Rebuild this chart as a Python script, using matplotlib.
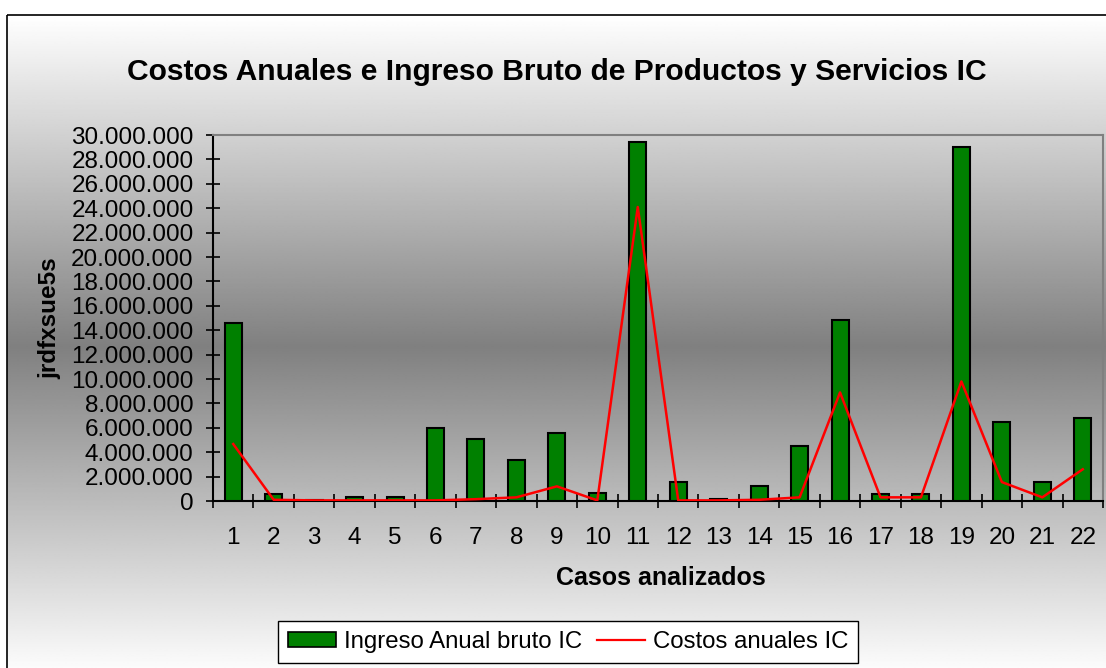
import numpy as np
import matplotlib
matplotlib.use("Agg")
import matplotlib.pyplot as plt
from matplotlib.patches import Rectangle, Patch
from matplotlib.lines import Line2D
from matplotlib.ticker import FuncFormatter

plt.rcParams['font.family'] = ['Liberation Sans', 'DejaVu Sans']

casos = [str(i) for i in range(1, 23)]
ingreso = [14.6, 0.6, 0.1, 0.3, 0.3, 6.0, 5.1, 3.4, 5.6, 0.65, 29.4, 1.55,
           0.15, 1.25, 4.5, 14.8, 0.6, 0.6, 29.0, 6.5, 1.55, 6.8]
costos = [4.67, 0.1, 0.05, 0.05, 0.05, 0.05, 0.15, 0.3, 1.2, 0.05, 24.1, 0.05,
          0.05, 0.1, 0.3, 8.9, 0.3, 0.3, 9.8, 1.55, 0.3, 2.6]
ingreso = [v * 1e6 for v in ingreso]
costos = [v * 1e6 for v in costos]

title = "Costos Anuales e Ingreso Bruto de Productos y Servicios IC"
ylabel = "jrdfxsue5s"
xlabel = "Casos analizados"
leg_bar = "Ingreso Anual bruto IC"
leg_line = "Costos anuales IC"

W, H = 1106, 668
fig = plt.figure(figsize=(W / 100, H / 100), dpi=100)
fig.patch.set_facecolor('white')

# background gradient inside the chart border
bg = fig.add_axes([0, 0, 1, 1], zorder=0)
bg.set_xlim(0, W)
bg.set_ylim(H, 0)
bg.axis('off')
y0, y1 = 15, 668
ys = np.linspace(0, 1, 400)
mid = 0.5
vals = np.where(ys < mid, 255 - (255 - 128) * ys / mid, 128 + (255 - 128) * (ys - mid) / (1 - mid))
img = np.repeat(vals[:, None], 2, axis=1) / 255.0
bg.imshow(img, cmap='gray', vmin=0, vmax=1, aspect='auto',
          extent=[7, W + 5, y1 + 10, y0], interpolation='bilinear')
bg.add_patch(Rectangle((7, 15), W, H, fill=False, edgecolor='black', lw=1.2))

ax = fig.add_axes([213 / W, 1 - 501 / H, (1103 - 213) / W, (501 - 135) / H], zorder=2)
ax.set_facecolor('none')

x = np.arange(1, len(casos) + 1)
ax.bar(x, ingreso, width=0.42, color='#008000', edgecolor='black', linewidth=1.5, zorder=3)
ax.plot(x, costos, color='#ff0000', lw=1.8, zorder=4)

ax.set_xlim(0.5, len(casos) + 0.5)
ax.set_ylim(0, 30e6)
ax.set_yticks(np.arange(0, 30e6 + 1, 2e6))
ax.yaxis.set_major_formatter(FuncFormatter(lambda v, p: f"{int(round(v)):,}".replace(',', '.')))
ax.set_xticks(x)
ax.set_xticklabels(casos)
ax.set_xticks(np.arange(0.5, len(casos) + 1, 1), minor=True)
ax.tick_params(axis='x', which='major', length=0, pad=19, labelsize=17.5)
ax.tick_params(axis='x', which='minor', direction='inout', length=10, width=1.2)
ax.tick_params(axis='y', direction='inout', length=10, width=1.2, pad=9, labelsize=17.5)

for s in ['top', 'right']:
    ax.spines[s].set_color('#808080')
    ax.spines[s].set_linewidth(1.5)
for s in ['left', 'bottom']:
    ax.spines[s].set_color('black')
    ax.spines[s].set_linewidth(1.5)

fig.text(557 / W, 1 - 72 / H, title, ha='center', va='center', fontsize=21.6, fontweight='bold')
fig.text(50 / W, 1 - 318 / H, ylabel, ha='center', va='center', rotation=90, fontsize=17.5, fontweight='bold')
fig.text(661 / W, 1 - 578 / H, xlabel, ha='center', va='center', fontsize=18, fontweight='bold')

handles = [Patch(facecolor='#008000', edgecolor='black', linewidth=1.2),
           Line2D([0], [0], color='#ff0000', lw=1.6)]
leg = fig.legend(handles, [leg_bar, leg_line], loc='center', bbox_to_anchor=(568 / W, 1 - 642 / H),
                 ncol=2, fontsize=17.3, frameon=True, fancybox=False, edgecolor='black',
                 framealpha=1, handlelength=2.0, handleheight=0.6, handletextpad=0.35,
                 columnspacing=0.6, borderpad=0.4, borderaxespad=0)
leg.get_frame().set_linewidth(1.0)

fig.savefig('out.png', dpi=100)
